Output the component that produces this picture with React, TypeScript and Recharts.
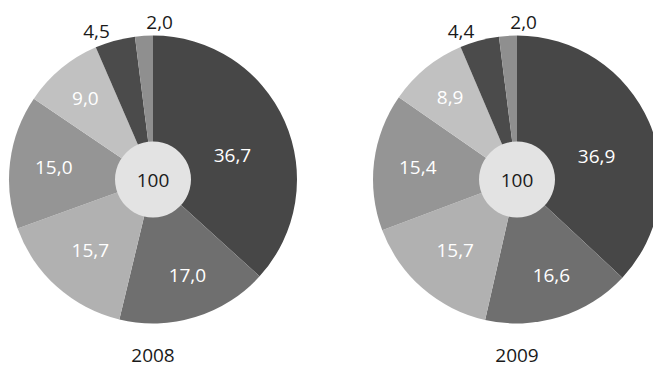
import { PieChart, Pie, Cell } from "recharts";

// shares per category, clockwise from 12 o'clock
const categories = ["A", "B", "C", "D", "E", "F", "G"];
const values2008 = [36.7, 17.0, 15.7, 15.0, 9.0, 4.5, 2.0];
const values2009 = [36.9, 16.6, 15.7, 15.4, 8.9, 4.4, 2.0];
const totalLabel = "100";
const years = ["2008", "2009"];

const colors = ["#474747", "#6f6f6f", "#b1b1b1", "#959595", "#c1c1c1", "#4b4b4b", "#8f8f8f"];
// label placement: distance from centre and small angle nudges (deg, counter-clockwise)
const labelRadius = [83, 101.5, 94, 100, 106, 159, 158];
const labelShift = [-7, 2.7, 0, 0, 0, 5.5, -6];
const outside = [false, false, false, false, false, true, true];

const W = 653;
const H = 367;
const R = 144;
const INNER = 38;
const centres = [
  { x: 153, y: 179.5 },
  { x: 517, y: 179.5 },
];

const RAD = Math.PI / 180;
const font = "'Open Sans', sans-serif";

const toRows = (vals: number[]) => categories.map((name, i) => ({ name, value: vals[i] }));

const renderLabel = (props: any) => {
  const { cx, cy, midAngle, index, value } = props;
  const a = (midAngle + labelShift[index]) * RAD;
  const r = labelRadius[index];
  const x = cx + r * Math.cos(a);
  const y = cy - r * Math.sin(a);
  return (
    <text
      x={x}
      y={y}
      textAnchor="middle"
      dominantBaseline="central"
      fill={outside[index] ? "#1a1a1a" : "#ffffff"}
      fontSize={19}
      fontFamily={font}
    >
      {value.toFixed(1).replace(".", ",")}
    </text>
  );
};

const renderTotal = (props: any) => (
  <text
    x={props.cx}
    y={props.cy}
    textAnchor="middle"
    dominantBaseline="central"
    fill="#1a1a1a"
    fontSize={19}
    fontFamily={font}
  >
    {totalLabel}
  </text>
);

export default function App() {
  const series = [values2008, values2009];
  return (
    <div style={{ position: "absolute", left: 0, top: 0, width: W, height: H, overflow: "hidden", background: "#fff" }}>
      <PieChart width={W} height={H} margin={{ top: 0, right: 0, bottom: 0, left: 0 }}>
        {series.map((vals, k) => (
          <Pie
            key={"p" + k}
            data={toRows(vals)}
            dataKey="value"
            cx={centres[k].x}
            cy={centres[k].y}
            outerRadius={R}
            innerRadius={0}
            startAngle={90}
            endAngle={-270}
            stroke="none"
            label={renderLabel}
            labelLine={false}
            isAnimationActive={false}
          >
            {vals.map((_, i) => (
              <Cell key={i} fill={colors[i]} />
            ))}
          </Pie>
        ))}
        {series.map((_, k) => (
          <Pie
            key={"c" + k}
            data={[{ name: "total", value: 100 }]}
            dataKey="value"
            cx={centres[k].x}
            cy={centres[k].y}
            outerRadius={INNER}
            fill="#e3e3e3"
            stroke="none"
            label={renderTotal}
            labelLine={false}
            isAnimationActive={false}
          />
        ))}
      </PieChart>
      {years.map((y, k) => (
        <div
          key={y}
          style={{
            position: "absolute",
            left: centres[k].x - 40,
            width: 80,
            top: 345,
            textAlign: "center",
            fontFamily: font,
            fontSize: 19,
            color: "#1a1a1a",
            lineHeight: "21px",
          }}
        >
          {y}
        </div>
      ))}
    </div>
  );
}
